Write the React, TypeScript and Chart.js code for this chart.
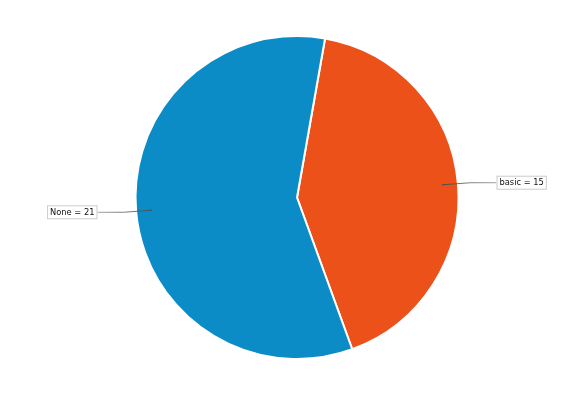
import React, { useEffect, useRef } from "react";
import { Chart, registerables } from "chart.js";

Chart.register(...registerables);

const categories = ["basic", "None"];
const values = [15, 21];
const colors = ["#EB5118", "#0B8CC6"];

const calloutPlugin = {
  id: "callouts",
  afterDatasetsDraw(chart: any) {
    const ctx = chart.ctx;
    const meta = chart.getDatasetMeta(0);
    meta.data.forEach((arc: any, i: number) => {
      const { x, y, startAngle, endAngle, outerRadius } = arc.getProps(
        ["x", "y", "startAngle", "endAngle", "outerRadius"],
        true
      );
      const mid = (startAngle + endAngle) / 2;
      const r0 = outerRadius * 0.9;
      const sx = x + Math.cos(mid) * r0;
      const sy = y + Math.sin(mid) * r0;
      const right = Math.cos(mid) >= 0;
      const ey = y + Math.sin(mid) * outerRadius * 1.05;
      const ex = right ? x + outerRadius + 38 : x - outerRadius - 38;
      const text = `${categories[i]} = ${values[i]}`;
      ctx.save();
      ctx.font = "8.3px 'DejaVu Sans', sans-serif";
      const tw = ctx.measureText(text).width;
      const bw = tw + 6;
      const bh = 14;
      const bx = right ? ex : ex - bw;
      const by = ey - bh / 2;
      ctx.lineWidth = 0.9;
      const grad = ctx.createLinearGradient(sx, sy, ex, ey);
      grad.addColorStop(0, "#444");
      grad.addColorStop(1, "#999");
      ctx.strokeStyle = grad;
      ctx.beginPath();
      ctx.moveTo(sx, sy);
      const mx = right ? ex - 26 : ex + 26;
      ctx.lineTo(mx, ey);
      ctx.lineTo(ex, ey);
      ctx.stroke();
      ctx.fillStyle = "#fff";
      ctx.fillRect(bx, by, bw, bh);
      ctx.strokeStyle = "#ccc";
      ctx.lineWidth = 1;
      ctx.strokeRect(bx + 0.5, by + 0.5, bw - 1, bh - 1);
      ctx.fillStyle = "#111";
      ctx.textBaseline = "middle";
      ctx.textAlign = "left";
      ctx.fillText(text, bx + 3, ey + 0.5);
      ctx.restore();
    });
  },
};

export default function App() {
  const ref = useRef<HTMLCanvasElement>(null);
  useEffect(() => {
    document.body.style.margin = "0";
    const chart = new Chart(ref.current!, {
      type: "pie",
      data: {
        labels: categories,
        datasets: [
          {
            data: values,
            backgroundColor: colors,
            borderColor: "#ffffff",
            borderWidth: 2,
          },
        ],
      },
      options: {
        animation: false,
        responsive: false,
        rotation: 10,
        layout: { padding: { left: 18, right: 0, top: 35, bottom: 43 } },
        plugins: {
          legend: { display: false },
          tooltip: { enabled: false },
        },
      },
      plugins: [calloutPlugin],
    });
    return () => chart.destroy();
  }, []);
  return (
    <div style={{ width: 576, height: 403, position: "relative", background: "#fff" }}>
      <canvas ref={ref} width={576} height={403} style={{ display: "block" }} />
    </div>
  );
}
